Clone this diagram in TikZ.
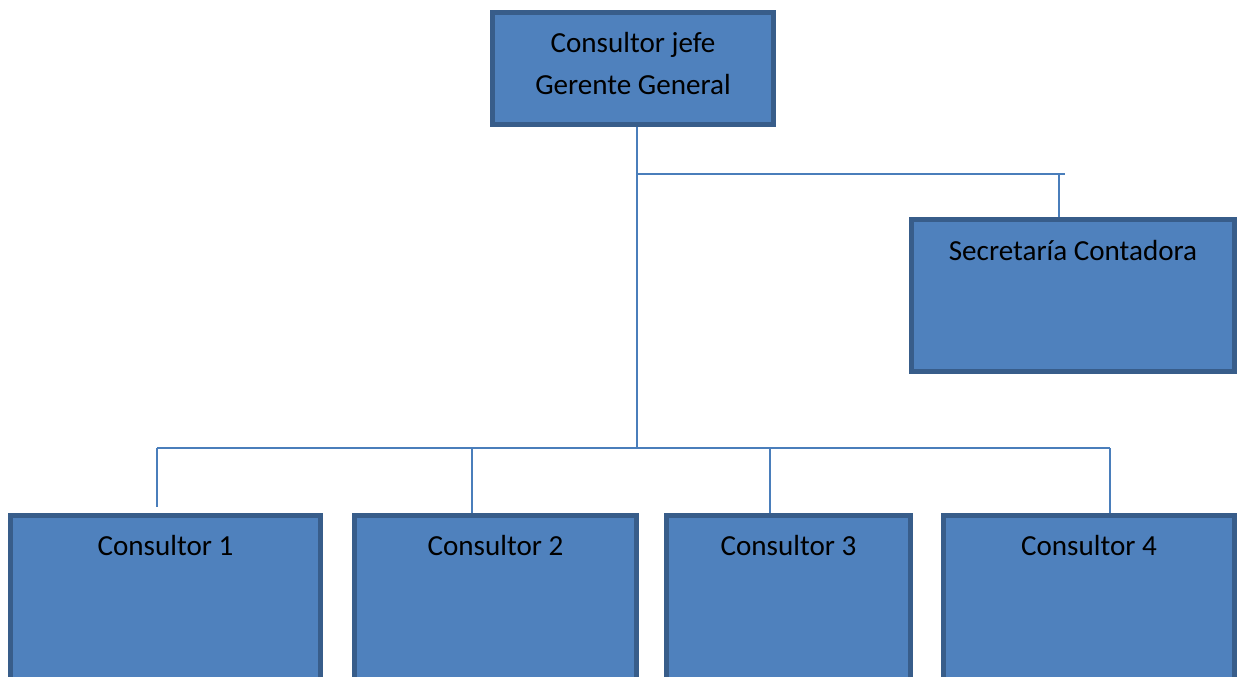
\documentclass[tikz,border=0pt]{standalone}
\usepackage{fontspec}
\setmainfont{Carlito}
\begin{document}
\begin{tikzpicture}[x=1pt,y=-1pt,
  box/.style={draw=boxline,fill=boxfill,line width=5pt,rectangle,inner sep=0pt},
  lbl/.style={anchor=base,inner sep=0pt,text=black,font=\fontsize{29.1pt}{41.5pt}\selectfont},
  conn/.style={draw=connline,line width=1.8pt}]
\definecolor{boxfill}{HTML}{4F81BD}
\definecolor{boxline}{HTML}{385D8A}
\definecolor{connline}{HTML}{4A7EBB}
\useasboundingbox (0,0) rectangle (1237,677);
\clip (0,0) rectangle (1237,677);

% boxes (coordinates are border centre lines)
\node[box,minimum width=281pt,minimum height=112pt] (boss) at (633,68.5) {};
\node[box,minimum width=323pt,minimum height=152pt] (sec) at (1073,295.5) {};
\node[box,minimum width=310pt,minimum height=205pt] (k1) at (165.5,617.5) {};
\node[box,minimum width=282pt,minimum height=205pt] (k2) at (495.5,617.5) {};
\node[box,minimum width=244pt,minimum height=205pt] (k3) at (788.5,617.5) {};
\node[box,minimum width=291pt,minimum height=205pt] (k4) at (1089,617.5) {};

% labels
\node[lbl] (tboss1) at ([yshift=-43pt]boss.north) {Consultor jefe};
\node[lbl] (tboss2) at ([yshift=-85pt]boss.north) {Gerente General};
\node[lbl] (tsec) at ([yshift=-43pt]sec.north) {Secretaría Contadora};
\node[lbl] (tk1) at ([yshift=-43pt]k1.north) {Consultor 1};
\node[lbl] (tk2) at ([yshift=-43pt]k2.north) {Consultor 2};
\node[lbl] (tk3) at ([yshift=-43pt]k3.north) {Consultor 3};
\node[lbl] (tk4) at ([yshift=-43pt]k4.north) {Consultor 4};

% connector junctions
\coordinate (upper) at (637,174);
\coordinate (lower) at (637,448);
\coordinate (upperEnd) at (1065,174);
\coordinate (secDrop) at (1059,174);
\coordinate (b1) at (157,448);
\coordinate (b1end) at (157,507);
\coordinate (b2) at (472,448);
\coordinate (b3) at (770,448);
\coordinate (b4) at (1110,448);

% connectors
\draw[conn] (boss.south -| lower) -- (lower);
\draw[conn] (upper) -- (upperEnd);
\draw[conn] (secDrop) -- (secDrop |- sec.north);
\draw[conn] (b1) -- (b4);
\draw[conn] (b1) -- (b1end);
\draw[conn] (b2) -- (b2 |- k2.north);
\draw[conn] (b3) -- (b3 |- k3.north);
\draw[conn] (b4) -- (b4 |- k4.north);
\end{tikzpicture}
\end{document}
